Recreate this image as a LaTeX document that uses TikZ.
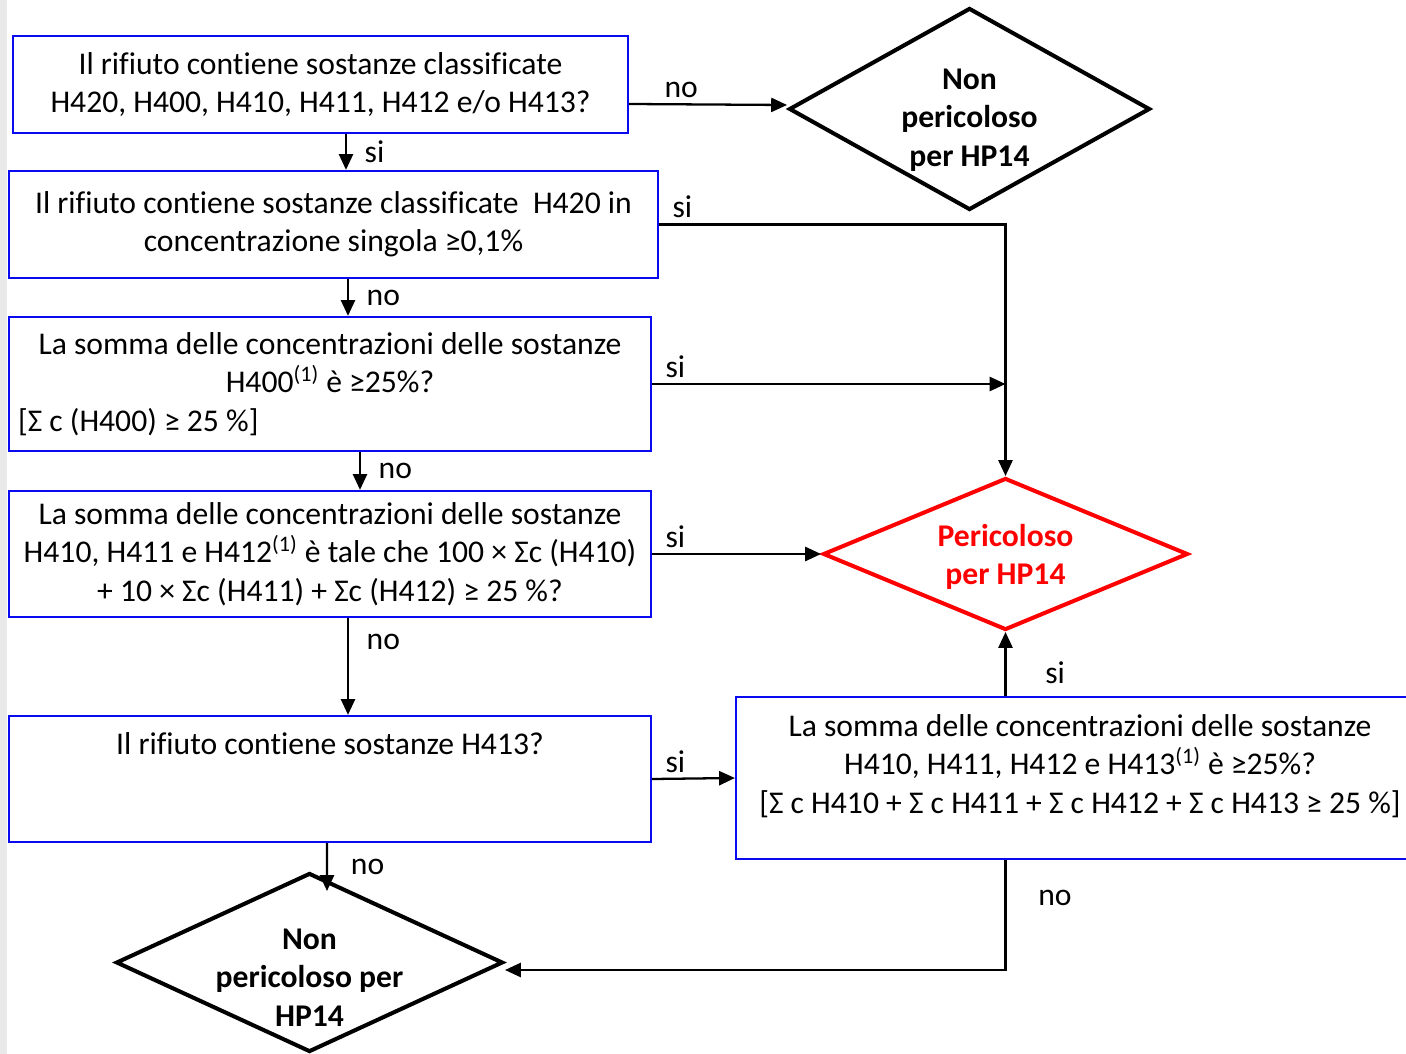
\documentclass[tikz,border=0pt]{standalone}
\usepackage{fontspec}
\setmainfont{Carlito}[Ligatures=NoCommon]
\usetikzlibrary{arrows.meta,shapes.geometric}
\definecolor{qblue}{HTML}{0A0AF0}
\definecolor{hazard}{HTML}{FF0000}
\definecolor{pageedge}{HTML}{E9E9E9}

\tikzset{
  txt/.style={font=\fontsize{18}{21.8}\selectfont},
  qbox/.style={txt,draw=qblue,line width=1.3pt,align=center,inner sep=0pt},
  enddia/.style={diamond,draw,line width=2.3pt,inner sep=0pt},
  dtxt/.style={txt,font=\fontsize{18}{21.8}\selectfont\bfseries,align=center},
  arr/.style={-{Triangle[length=9pt,width=8pt]},line width=1.3pt},
  lbl/.style={txt,inner sep=3pt},
  rlab/.style={lbl,right,xshift=7pt},
  alab/.style={lbl,above right,xshift=4pt},
}

\begin{document}
\begin{tikzpicture}[x=0.02cm,y=-0.02cm]
  % frame in pixels of the source page
  \useasboundingbox (0,0) rectangle (1406,1054);
  \fill[pageedge] (0,0) rectangle (7,1054);

  % questions
  \node[qbox,minimum width=12.3cm,minimum height=1.94cm] (b1) at (320.5,84.5)
    {Il rifiuto contiene sostanze classificate\\H420, H400, H410, H411, H412 e/o H413?};
  \node[qbox,minimum width=12.98cm,minimum height=2.14cm] (b2) at (333.5,224.5)
    {Il rifiuto contiene sostanze classificate\ \ H420 in\\concentrazione singola ≥0,1\%};
  \node[qbox,minimum width=12.84cm,minimum height=2.68cm] (b3) at (330,384)
    {La somma delle concentrazioni delle sostanze\\H400\textsuperscript{(1)} è ≥25\%?\\\makebox[12.48cm][l]{[Σ c (H400) ≥ 25 \%]}};
  \node[qbox,minimum width=12.84cm,minimum height=2.52cm] (b4) at (330,554)
    {La somma delle concentrazioni delle sostanze\\H410, H411 e H412\textsuperscript{(1)} è tale che 100 × Σc (H410)\\+ 10 × Σc (H411) + Σc (H412) ≥ 25 \%?};
  \node[qbox,minimum width=12.84cm,minimum height=2.52cm] (b5) at (330,779) {};
  \node[txt,anchor=base] (b5t) at (330,754) {Il rifiuto contiene sostanze H413?};
  \node[qbox,minimum width=13.76cm,minimum height=3.24cm] (b6) at (1080,778) {};
  \node[txt,align=center] (b6t) at (1080,766)
    {La somma delle concentrazioni delle sostanze\\H410, H411, H412 e H413\textsuperscript{(1)} è ≥25\%?\\{[}Σ c H410 + Σ c H411 + Σ c H412 + Σ c H413 ≥ 25 \%{]}};

  % outcomes
  \node[enddia,minimum width=7.22cm,minimum height=4.04cm,
    label={[dtxt,yshift=-0.22cm]center:Non\\pericoloso\\per HP14}] (np1) at (969.5,109) {};
  \node[enddia,draw=hazard,minimum width=7.3cm,minimum height=3.04cm,
    label={[dtxt,text=hazard,yshift=-0.06cm]center:Pericoloso\\per HP14}] (haz) at (1005.5,554) {};
  \node[enddia,minimum width=7.74cm,minimum height=3.58cm,
    label={[dtxt,yshift=-0.3cm]center:Non\\pericoloso per\\HP14}] (np2) at (309.5,962.5) {};

  % flow
  \draw[arr] ([yshift=-0.39cm]b1.east) -- node[lbl,above,pos=0.33]{no} ([yshift=0.08cm]np1.west);
  \draw[arr] ([xshift=0.51cm]b1.south) -- node[rlab]{si} ([xshift=0.51cm]b1.south |- b2.north);
  \draw[arr] (b2.east) -| node[alab,pos=0]{si} (haz.north);
  \draw[arr] ([xshift=0.29cm]b2.south) -- node[rlab]{no} ([xshift=0.29cm]b2.south |- b3.north);
  \draw[arr] (b3.east) -- node[alab,pos=0]{si} (b3.east -| haz.north);
  \draw[arr] ([xshift=0.6cm]b3.south) -- node[rlab]{no} ([xshift=0.6cm]b3.south |- b4.north);
  \draw[arr] (b4.east) -- node[alab,pos=0]{si} (haz.west);
  \draw[arr] ([xshift=0.36cm]b4.south) -- node[rlab,pos=0.25]{no} ([xshift=0.36cm]b4.south |- b5.north);
  \draw[arr] (b5.east) -- node[alab,pos=0]{si} (b6.west);
  \draw[arr] (haz.south |- b6.north) -- node[rlab,pos=0.36,xshift=12pt]{si} (haz.south);
  \draw[arr] (haz.south |- b6.south) |- node[rlab,pos=0.17,xshift=8pt]{no} ([yshift=-0.15cm]np2.east);
  \draw[arr] ([xshift=-0.06cm]b5.south) -- node[rlab,xshift=3pt]{no} ([xshift=0.35cm,yshift=-0.4cm]np2.north);
\end{tikzpicture}
\end{document}
